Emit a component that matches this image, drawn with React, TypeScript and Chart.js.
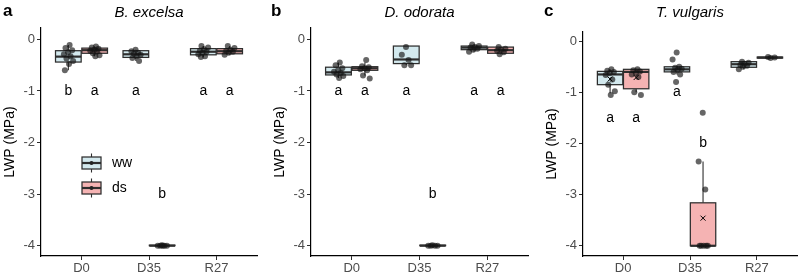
import React, { useEffect, useRef } from "react";
import { Chart, registerables } from "chart.js";
Chart.register(...registerables);

const categories = ["D0", "D35", "R27"];
const groups = ["ww", "ds"];
const yTickValues = [0, -1, -2, -3, -4];
const panelTags = ["a", "b", "c"];
const panelTitles = ["B. excelsa", "D. odorata", "T. vulgaris"];

// box stats per category: [whiskerLow, q1, median, q3, whiskerHigh]
const excelsaBoxWW = [
  [-0.6, -0.44, -0.335, -0.22, -0.11],
  [-0.42, -0.35, -0.29, -0.22, -0.2],
  [-0.34, -0.3, -0.24, -0.18, -0.13],
];
const excelsaBoxDS = [
  [-0.33, -0.27, -0.21, -0.17, -0.14],
  [-4.0, -4.0, -4.0, -3.99, -3.99],
  [-0.3, -0.28, -0.23, -0.18, -0.13],
];
const excelsaPtsWW = [
  [-0.11, -0.17, -0.21, -0.25, -0.29, -0.33, -0.37, -0.42, -0.48, -0.6],
  [-0.2, -0.23, -0.26, -0.28, -0.3, -0.33, -0.36, -0.42],
  [-0.13, -0.16, -0.19, -0.22, -0.24, -0.26, -0.29, -0.33, -0.34],
];
const excelsaPtsDS = [
  [-0.14, -0.16, -0.18, -0.2, -0.22, -0.24, -0.27, -0.31, -0.33],
  [-3.99, -4.0, -4.0, -4.0, -4.0, -4.0],
  [-0.13, -0.17, -0.2, -0.22, -0.24, -0.26, -0.3],
];
const excelsaLettersWW = ["b", "a", "a"];
const excelsaLettersDS = ["a", "b", "a"];
const excelsaLetterYWW = [-1, -1, -1];
const excelsaLetterYDS = [-1, -3, -1];

const odorataBoxWW = [
  [-0.75, -0.69, -0.64, -0.54, -0.45],
  [-0.5, -0.47, -0.39, -0.13, -0.13],
  [-0.24, -0.2, -0.16, -0.13, -0.1],
];
const odorataBoxDS = [
  [-0.7, -0.6, -0.56, -0.53, -0.45],
  [-4.0, -4.0, -4.0, -3.99, -3.99],
  [-0.29, -0.27, -0.21, -0.15, -0.15],
];
const odorataPtsWW = [
  [-0.45, -0.5, -0.56, -0.6, -0.63, -0.65, -0.68, -0.71, -0.75],
  [-0.15, -0.3, -0.4, -0.5, -0.5],
  [-0.1, -0.13, -0.15, -0.16, -0.18, -0.2, -0.24],
];
const odorataPtsDS = [
  [-0.4, -0.52, -0.54, -0.56, -0.58, -0.6, -0.7, -0.76],
  [-3.99, -4.0, -4.0, -4.0, -4.0],
  [-0.15, -0.18, -0.2, -0.22, -0.25, -0.29],
];
const odorataLettersWW = ["a", "a", "a"];
const odorataLettersDS = ["a", "b", "a"];
const odorataLetterYWW = [-1, -1, -1];
const odorataLetterYDS = [-1, -3, -1];

const vulgarisBoxWW = [
  [-1.02, -0.85, -0.65, -0.59, -0.55],
  [-0.65, -0.6, -0.55, -0.5, -0.5],
  [-0.55, -0.51, -0.45, -0.4, -0.4],
];
const vulgarisBoxDS = [
  [-1.0, -0.93, -0.6, -0.55, -0.54],
  [-4.0, -4.0, -4.0, -3.16, -2.35],
  [-0.33, -0.33, -0.32, -0.31, -0.31],
];
const vulgarisPtsWW = [
  [-0.55, -0.58, -0.6, -0.62, -0.66, -0.75, -0.85, -0.98, -1.05],
  [-0.22, -0.36, -0.5, -0.52, -0.54, -0.56, -0.6, -0.65, -0.8],
  [-0.4, -0.42, -0.44, -0.46, -0.48, -0.5, -0.55],
];
const vulgarisPtsDS = [
  [-0.55, -0.57, -0.59, -0.62, -0.65, -0.7, -1.0, -1.05],
  [-1.4, -2.35, -2.9, -4.0, -4.0, -4.0, -4.0, -4.0],
  [-0.31, -0.32, -0.33],
];
const vulgarisMeanWW = [-0.74, null, null];
const vulgarisMeanDS = [-0.71, -3.46, null];
const vulgarisLettersWW = ["a", "a", ""];
const vulgarisLettersDS = ["a", "b", ""];
const vulgarisLetterYWW = [-1.5, -1.0, null];
const vulgarisLetterYDS = [-1.5, -2.0, null];

const FONT = "'Liberation Sans', Arial, sans-serif";
const FILL_WW = "#d3e9ee";
const FILL_DS = "#f5b3b3";
const LINE = "#2e2e2e";
const POINT = "rgba(20,20,20,0.65)";
const OFF = 0.195;
const BOXW = 0.38;

type Panel = {
  idx: number;
  left: number;
  width: number;
  axisLeft: number;
  padRight: number;
  top: number;
  ymax: number;
  boxes: number[][][];
  pts: number[][][];
  means: (number | null)[][] | null;
  letters: string[][];
  letterY: (number | null)[][];
  legend: boolean;
};

const panels: Panel[] = [
  {
    idx: 0, left: 0, width: 268, axisLeft: 41, padRight: 11, top: 28, ymax: 0.22,
    boxes: [excelsaBoxWW, excelsaBoxDS], pts: [excelsaPtsWW, excelsaPtsDS], means: null,
    letters: [excelsaLettersWW, excelsaLettersDS], letterY: [excelsaLetterYWW, excelsaLetterYDS], legend: true,
  },
  {
    idx: 1, left: 268, width: 270, axisLeft: 43, padRight: 10, top: 28, ymax: 0.22,
    boxes: [odorataBoxWW, odorataBoxDS], pts: [odorataPtsWW, odorataPtsDS], means: null,
    letters: [odorataLettersWW, odorataLettersDS], letterY: [odorataLetterYWW, odorataLetterYDS], legend: false,
  },
  {
    idx: 2, left: 538, width: 262, axisLeft: 45, padRight: 0, top: 32, ymax: 0.18,
    boxes: [vulgarisBoxWW, vulgarisBoxDS], pts: [vulgarisPtsWW, vulgarisPtsDS], means: [vulgarisMeanWW, vulgarisMeanDS],
    letters: [vulgarisLettersWW, vulgarisLettersDS], letterY: [vulgarisLetterYWW, vulgarisLetterYDS], legend: false,
  },
];

const jit = (i: number) => ((((i + 1) * 0.618034) % 1) - 0.5) * 0.16;

function drawBoxGlyph(ctx: CanvasRenderingContext2D, x0: number, x1: number, yw0: number, yq1: number, ymed: number, yq3: number, yw1: number, fill: string) {
  const xc = (x0 + x1) / 2;
  ctx.strokeStyle = LINE;
  ctx.lineWidth = 1.1;
  ctx.beginPath();
  ctx.moveTo(xc, yq3); ctx.lineTo(xc, yw1);
  ctx.moveTo(xc, yq1); ctx.lineTo(xc, yw0);
  ctx.stroke();
  ctx.fillStyle = fill;
  ctx.fillRect(x0, yq3, x1 - x0, yq1 - yq3);
  ctx.lineWidth = 1.25;
  ctx.strokeRect(x0, yq3, x1 - x0, yq1 - yq3);
  ctx.lineWidth = 2.2;
  ctx.beginPath();
  ctx.moveTo(x0, ymed); ctx.lineTo(x1, ymed);
  ctx.stroke();
}

function makePlugin(p: Panel) {
  return {
    id: "panelDecor" + p.idx,
    beforeDatasetsDraw(chart: any) {
      const ctx = chart.ctx as CanvasRenderingContext2D;
      const xs = chart.scales.x, ys = chart.scales.y;
      ctx.save();
      p.boxes.forEach((grp, g) => {
        const off = g === 0 ? -OFF : OFF;
        grp.forEach((b, c) => {
          const x0 = xs.getPixelForValue(c + off - BOXW / 2);
          const x1 = xs.getPixelForValue(c + off + BOXW / 2);
          drawBoxGlyph(ctx, x0, x1, ys.getPixelForValue(b[0]), ys.getPixelForValue(b[1]), ys.getPixelForValue(b[2]), ys.getPixelForValue(b[3]), ys.getPixelForValue(b[4]), g === 0 ? FILL_WW : FILL_DS);
        });
      });
      ctx.restore();
    },
    afterDatasetsDraw(chart: any) {
      const ctx = chart.ctx as CanvasRenderingContext2D;
      const xs = chart.scales.x, ys = chart.scales.y;
      const area = chart.chartArea;
      ctx.save();
      if (p.means) {
        ctx.strokeStyle = "#000";
        ctx.lineWidth = 1;
        p.means.forEach((grp, g) => {
          const off = g === 0 ? -OFF : OFF;
          grp.forEach((m, c) => {
            if (m === null) return;
            const x = xs.getPixelForValue(c + off), y = ys.getPixelForValue(m);
            ctx.beginPath();
            ctx.moveTo(x - 2.5, y - 2.5); ctx.lineTo(x + 2.5, y + 2.5);
            ctx.moveTo(x + 2.5, y - 2.5); ctx.lineTo(x - 2.5, y + 2.5);
            ctx.stroke();
          });
        });
      }
      ctx.fillStyle = "#000";
      ctx.font = `14px ${FONT}`;
      ctx.textAlign = "center";
      ctx.textBaseline = "middle";
      p.letters.forEach((grp, g) => {
        const off = g === 0 ? -OFF : OFF;
        grp.forEach((t, c) => {
          const v = p.letterY[g][c];
          if (!t || v === null) return;
          ctx.fillText(t, xs.getPixelForValue(c + off), ys.getPixelForValue(v));
        });
      });
      ctx.font = `italic 15px ${FONT}`;
      ctx.textBaseline = "alphabetic";
      ctx.fillText(panelTitles[p.idx], (area.left + area.right) / 2, 17);
      ctx.font = `bold 17px ${FONT}`;
      ctx.textAlign = "left";
      ctx.fillText(panelTags[p.idx], p.idx === 2 ? 6 : 3, 16);
      ctx.save();
      ctx.translate(area.left - 31, (area.top + area.bottom) / 2);
      ctx.rotate(-Math.PI / 2);
      ctx.textAlign = "center";
      ctx.textBaseline = "middle";
      ctx.font = `14px ${FONT}`;
      ctx.fillText("LWP (MPa)", 0, 0);
      ctx.restore();
      if (p.legend) {
        const lx0 = area.left + 41, lx1 = area.left + 60;
        const rows = [163, 188];
        rows.forEach((cy, g) => {
          drawBoxGlyph(ctx, lx0, lx1, cy + 9.5, cy + 6, cy, cy - 6, cy - 9.5, g === 0 ? FILL_WW : FILL_DS);
          ctx.fillStyle = "#222";
          ctx.beginPath();
          ctx.arc((lx0 + lx1) / 2, cy, 2, 0, Math.PI * 2);
          ctx.fill();
          ctx.fillStyle = "#000";
          ctx.font = `14px ${FONT}`;
          ctx.textAlign = "left";
          ctx.textBaseline = "middle";
          ctx.fillText(groups[g], lx1 + 11, cy);
        });
      }
      ctx.restore();
    },
  };
}

function PanelChart({ p }: { p: Panel }) {
  const ref = useRef<HTMLCanvasElement | null>(null);
  useEffect(() => {
    if (!ref.current) return;
    const datasets = p.pts.map((grp, g) => {
      const off = g === 0 ? -OFF : OFF;
      const data: { x: number; y: number }[] = [];
      grp.forEach((vals, c) => {
        vals.forEach((v, i) => data.push({ x: c + off + jit(i + c * 3), y: v }));
      });
      return { label: groups[g], data, backgroundColor: POINT, borderWidth: 0, pointRadius: 3, pointHoverRadius: 3 };
    });
    const tickFont = { family: FONT, size: 13 };
    const chart = new Chart(ref.current, {
      type: "scatter",
      data: { datasets },
      options: {
        responsive: false,
        animation: false,
        events: [],
        layout: { padding: { left: 0, right: p.padRight, top: p.top, bottom: 0 } },
        plugins: { legend: { display: false }, tooltip: { enabled: false } },
        scales: {
          x: {
            type: "linear",
            min: -0.6,
            max: 2.6,
            afterBuildTicks: (s: any) => { s.ticks = categories.map((_, i) => ({ value: i })); },
            afterFit: (s: any) => { s.height = 19; },
            ticks: { callback: (v: any) => categories[v] ?? "", color: "#4d4d4d", font: tickFont, padding: 1, maxRotation: 0, autoSkip: false },
            grid: { drawOnChartArea: false, drawTicks: true, tickLength: 4, color: LINE, tickColor: LINE },
            border: { display: true, color: "#000", width: 1.2 },
          },
          y: {
            type: "linear",
            min: -4.2,
            max: p.ymax,
            afterBuildTicks: (s: any) => { s.ticks = yTickValues.map((v) => ({ value: v })); },
            afterFit: (s: any) => { s.width = p.axisLeft; },
            ticks: { callback: (v: any) => String(v), color: "#4d4d4d", font: tickFont, padding: 2 },
            grid: { drawOnChartArea: false, drawTicks: true, tickLength: 4, color: LINE, tickColor: LINE },
            border: { display: true, color: "#000", width: 1.2 },
          },
        },
      } as any,
      plugins: [makePlugin(p)],
    });
    return () => chart.destroy();
  }, [p]);
  return (
    <canvas
      ref={ref}
      width={p.width}
      height={275}
      style={{ position: "absolute", left: p.left, top: 0, width: p.width, height: 275 }}
    />
  );
}

export default function App() {
  return (
    <div style={{ position: "fixed", left: 0, top: 0, width: 800, height: 275, background: "#fff" }}>
      {panels.map((p) => (
        <PanelChart key={p.idx} p={p} />
      ))}
    </div>
  );
}
